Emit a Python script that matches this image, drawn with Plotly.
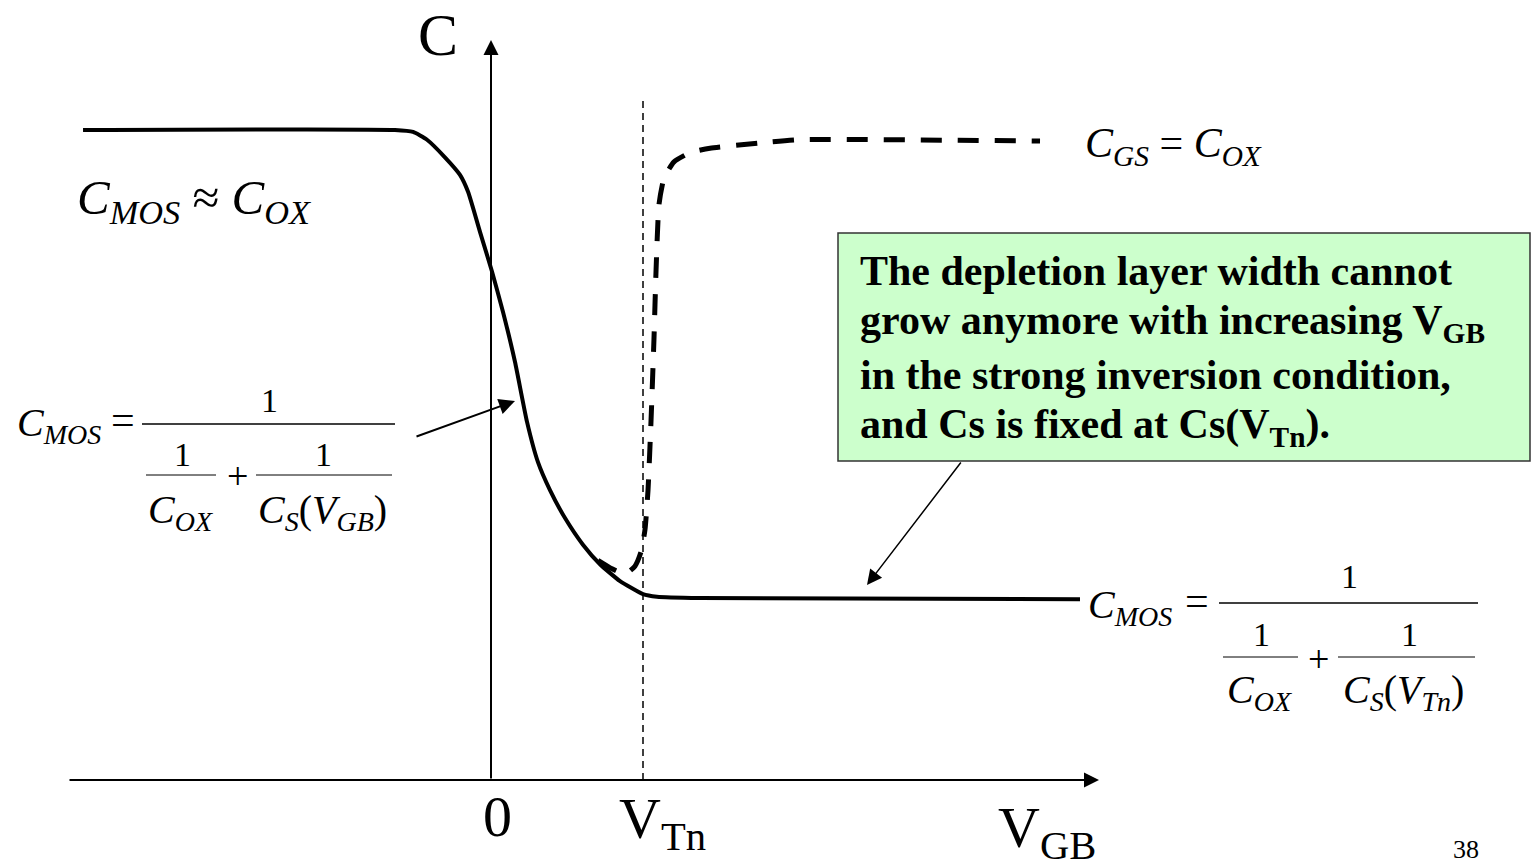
import plotly.graph_objects as go

W, H = 1531, 868
SERIF = "Liberation Serif"

# Gate-bulk voltage in units of V_Tn, capacitance in units of C_OX
V_TN = 1.0
C_OX = 1.0

# High-frequency C-V curve (solid): depletion width saturates beyond V_Tn
v_hf = [-2.684, -0.632, -0.513, -0.421, -0.303, -0.204, -0.151, -0.072, 0.007,
        0.079, 0.158, 0.237, 0.309, 0.388, 0.487, 0.605, 0.717, 0.849, 1.0,
        1.092, 1.375, 3.875]
c_hf = [1.0, 1.0, 0.997, 0.985, 0.958, 0.931, 0.905, 0.843, 0.782,
        0.720, 0.643, 0.551, 0.489, 0.446, 0.403, 0.362, 0.332, 0.306, 0.286,
        0.282, 0.280, 0.278]

# Low-frequency C-V curve (dashed): inversion charge restores C_GS = C_OX
v_lf = [0.704, 0.796, 0.882, 0.947, 0.987, 1.013, 1.033, 1.053, 1.072, 1.086,
        1.105, 1.138, 1.204, 1.309, 1.441, 1.770, 2.033, 3.612]
c_lf = [0.338, 0.325, 0.317, 0.329, 0.351, 0.385, 0.446, 0.554, 0.677, 0.785,
        0.885, 0.926, 0.951, 0.965, 0.972, 0.980, 0.985, 0.983]

# Axis tick labels
tick_labels = ["0", "V<sub>Tn</sub>"]

# Canvas layout: origin at pixel (491, 780), 152 px per V_Tn, 650 px per C_OX
X0, Y0, SX, SY = 491, 780, 152, 650
x_range = [(0 - X0) / SX, (W - X0) / SX]
y_range = [(Y0 - H) / SY, Y0 / SY]


def dv(p):
    return (p - X0) / SX


def dc(p):
    return (Y0 - p) / SY


def fx(p):
    return p / W


def fy(p):
    return 1 - p / H


fig = go.Figure()

fig.add_trace(go.Scatter(
    x=v_hf, y=c_hf, mode="lines",
    line=dict(color="black", width=4, shape="spline", smoothing=0.5),
    hoverinfo="skip", showlegend=False))

fig.add_trace(go.Scatter(
    x=v_lf, y=c_lf, mode="lines",
    line=dict(color="black", width=5, dash="21px,16px", shape="spline", smoothing=0.5),
    hoverinfo="skip", showlegend=False))

shapes = []
# V_Tn marker line
shapes.append(dict(type="line", xref="x", yref="y", x0=V_TN, x1=V_TN, y0=0, y1=dc(100),
                   line=dict(color="black", width=1.5, dash="7px,5px")))

# Explanation box
shapes.append(dict(type="rect", xref="paper", yref="paper",
                   x0=fx(838), x1=fx(1530), y0=fy(461), y1=fy(233),
                   fillcolor="#CCFFCC", line=dict(color="#333333", width=1.5), layer="below"))

# Fraction bars
for (a, b, y, w) in [(142, 395, 424, 1.5), (146, 216, 475, 1), (256, 392, 475, 1),
                     (1219, 1478, 603, 1.5), (1223, 1298, 657, 1), (1338, 1475, 657, 1)]:
    shapes.append(dict(type="line", xref="paper", yref="paper",
                       x0=fx(a), x1=fx(b), y0=fy(y), y1=fy(y),
                       line=dict(color="black", width=w)))

ann = []


def text(t, x, y, size, xanchor="center", yanchor="middle"):
    ann.append(dict(text=t, x=fx(x), y=fy(y), xref="paper", yref="paper",
                    xanchor=xanchor, yanchor=yanchor, showarrow=False,
                    font=dict(family=SERIF, size=size, color="black")))


def arrow(x_tip, y_tip, x_tail, y_tail, width, size):
    ann.append(dict(text="", x=dv(x_tip), y=dc(y_tip), ax=dv(x_tail), ay=dc(y_tail),
                    xref="x", yref="y", axref="x", ayref="y", showarrow=True,
                    arrowhead=2, arrowsize=size, arrowwidth=width, arrowcolor="black",
                    standoff=0, startstandoff=0, font=dict(size=12)))


# Axes with arrowheads
arrow(1099, 780, 68, 780, 2, 1.5)
arrow(491, 40, 491, 780, 2, 1.5)

# Pointer arrows
arrow(515, 401, 415, 437, 2, 1.6)
arrow(867, 585, 962, 461, 1.5, 2.0)

# Axis labels
text("C", 438, 35, 60)
text(tick_labels[0], 497, 816, 58)
text(tick_labels[1], 662, 822, 58)
text("V<sub>GB</sub>", 1047, 831, 58)
text("38", 1466, 849, 26)

# Accumulation label
text("<i>C</i><sub><i>MOS</i></sub>\u00a0≈\u00a0<i>C</i><sub><i>OX</i></sub>", 75, 200, 49, xanchor="left")

# Low-frequency limit label
text("<i>C</i><sub><i>GS</i></sub>\u00a0=\u00a0<i>C</i><sub><i>OX</i></sub>", 1083, 146, 42, xanchor="left")

# Depletion formula (left)
text("<i>C</i><sub><i>MOS</i></sub>", 15, 425, 40, xanchor="left")
text("=", 123, 420, 42)
text("1", 269, 400, 34)
text("1", 182, 454, 34)
text("+", 237, 476, 38)
text("1", 323, 454, 34)
text("<i>C</i><sub><i>OX</i></sub>", 146, 512, 40, xanchor="left")
text("<i>C</i><sub><i>S</i></sub>(<i>V</i><sub><i>GB</i></sub>)", 256, 512, 40, xanchor="left")

# Inversion formula (right)
text("<i>C</i><sub><i>MOS</i></sub>", 1086, 607, 40, xanchor="left")
text("=", 1197, 601, 42)
text("1", 1349, 576, 34)
text("1", 1261, 634, 34)
text("+", 1318, 659, 38)
text("1", 1409, 634, 34)
text("<i>C</i><sub><i>OX</i></sub>", 1225, 692, 40, xanchor="left")
text("<i>C</i><sub><i>S</i></sub>(<i>V</i><sub><i>Tn</i></sub>)", 1341, 692, 40, xanchor="left")

# Explanation box text
box_lines = [
    "The depletion layer width cannot",
    "grow anymore with increasing V<sub>GB</sub>",
    "in the strong inversion condition,",
    "and Cs is fixed at Cs(V<sub>Tn</sub>).",
]
for i, line in enumerate(box_lines):
    ann.append(dict(text="<b>" + line + "</b>", x=fx(858), y=fy(271 + 52 * i),
                    xref="paper", yref="paper", xanchor="left", yanchor="middle",
                    showarrow=False, font=dict(family=SERIF, size=42, color="black")))

fig.update_layout(
    width=W, height=H,
    margin=dict(l=0, r=0, t=0, b=0),
    paper_bgcolor="white", plot_bgcolor="white",
    xaxis=dict(range=x_range, visible=False, fixedrange=True),
    yaxis=dict(range=y_range, visible=False, fixedrange=True),
    shapes=shapes, annotations=ann,
    showlegend=False,
)

fig.write_html("out.html", config={"displayModeBar": False})
